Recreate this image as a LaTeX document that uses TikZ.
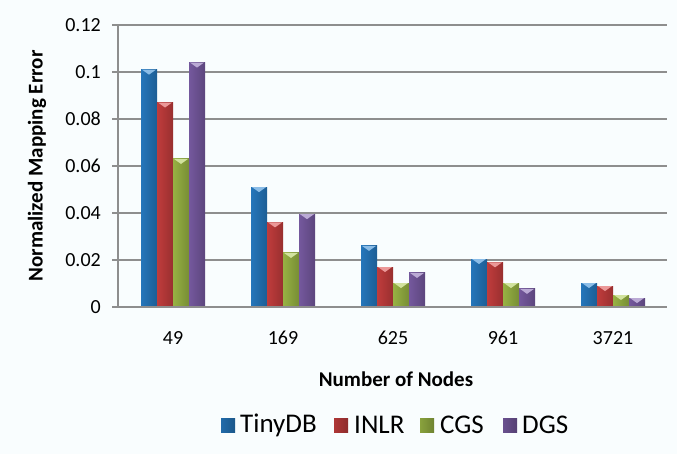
\documentclass[tikz,border=0pt]{standalone}
\usepackage{fontspec}
\setmainfont{Carlito}
\definecolor{bg}{HTML}{F9FDFE}
\definecolor{gridc}{HTML}{8E8E8E}
\definecolor{cblue}{HTML}{2A86D4}
\definecolor{cred}{HTML}{DA4444}
\definecolor{cgreen}{HTML}{ABCA4C}
\definecolor{cpurple}{HTML}{8464B2}
\tikzset{
  gridline/.style={gridc, line width=1.8pt},
  ticklab/.style={font=\fontsize{20}{23}\selectfont, inner sep=0pt},
  axtitle/.style={font=\bfseries\fontsize{21}{24}\selectfont, inner sep=0pt},
  leglab/.style={font=\fontsize{27}{30}\selectfont, inner sep=0pt, anchor=west},
}
\newcommand\mybar[3]{%
  \pgfmathsetmacro\bartop{307-#2*2350}%
  \shade[left color=#3!88!black, middle color=#3!90!white, right color=#3!70!black]
    (#1,307) rectangle ({#1+16},\bartop);
  \fill[#3!55!white] ({#1+1},\bartop) -- ({#1+15},\bartop) -- ({#1+8},{\bartop+5}) -- cycle;
}
\newcommand\mysq[2]{%
  \shade[left color=#2!80!black, middle color=#2!90!white, right color=#2!65!black]
    (#1,418) rectangle ({#1+14},432);
}
\begin{document}
\begin{tikzpicture}[x=1pt,y=-1pt]
\fill[bg] (0,0) rectangle (677,454);
\useasboundingbox (0,0) rectangle (677,454);
% grid
\foreach \k in {0,...,6} \draw[gridline] (112,{307-47*\k}) -- (667,{307-47*\k});
\draw[gridline] (118,25) -- (118,307);
% y tick labels
\foreach \k/\t in {0/0,1/0.02,2/0.04,3/0.06,4/0.08,5/0.1,6/0.12}
  \node[ticklab, anchor=east] (yl\k) at (101,{307-47*\k}) {\t};
% bars
\foreach \i/\lab/\a/\b/\c/\d in {0/49/0.101/0.087/0.063/0.104,
                          1/169/0.051/0.036/0.023/0.0395,
                          2/625/0.026/0.017/0.0102/0.0145,
                          3/961/0.0204/0.019/0.0102/0.0077,
                          4/3721/0.0102/0.0089/0.0051/0.0038}{
  \pgfmathsetmacro\cx{173+110*\i}
  \mybar{\cx-32}{\a}{cblue}
  \mybar{\cx-16}{\b}{cred}
  \mybar{\cx}{\c}{cgreen}
  \mybar{\cx+16}{\d}{cpurple}
  \node[ticklab] (xl\i) at (\cx,338) {\lab};
}
\draw[gridline] (112,307) -- (667,307);
% titles
\node[axtitle] (xt) at (396,379) {Number of Nodes};
\node[axtitle, rotate=90] (yt) at (37,166) {Normalized Mapping Error};
% legend
\mysq{221}{cblue}\node[leglab] (l1) at (240,425) {TinyDB};
\mysq{334}{cred}\node[leglab] (l2) at (354,425) {INLR};
\mysq{420}{cgreen}\node[leglab] (l3) at (440,425) {CGS};
\mysq{503}{cpurple}\node[leglab] (l4) at (522,425) {DGS};
\end{tikzpicture}
\end{document}
